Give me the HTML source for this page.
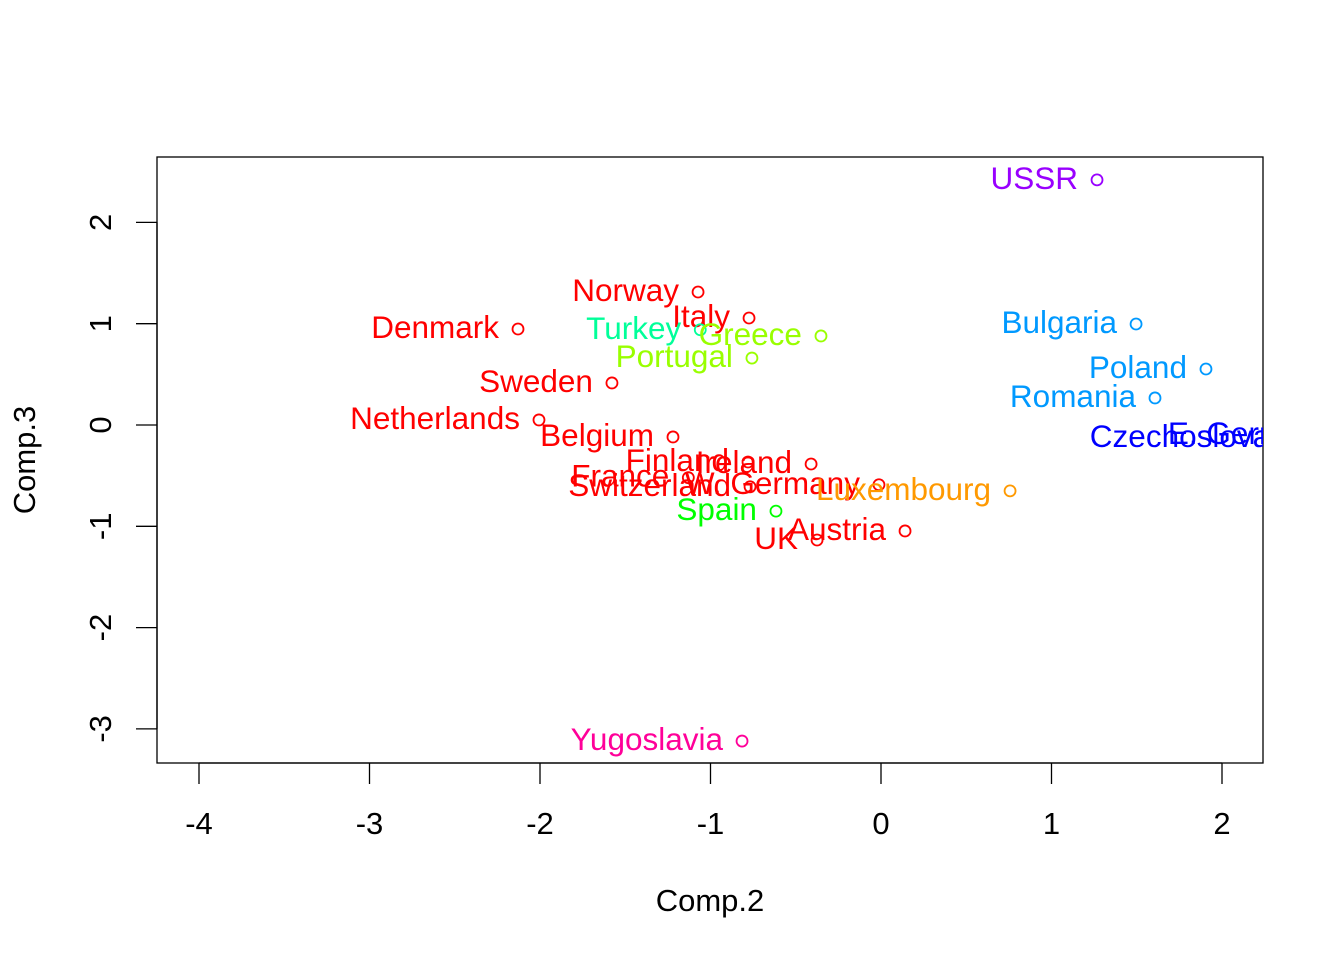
<!DOCTYPE html>
<html><head><meta charset="utf-8"><style>body{margin:0;background:#fff}svg{display:block;font-family:"Liberation Sans",Arial,sans-serif}</style></head>
<body>
<svg id="chart" width="1344" height="960">
<defs><clipPath id="clip"><rect x="157" y="157" width="1106" height="606"/></clipPath></defs>
<rect x="157" y="157" width="1106" height="606" fill="none" stroke="#000" stroke-width="1.3"/>
<g id="xaxis"></g>
<g id="yaxis"></g>
<g id="pts" clip-path="url(#clip)"></g>
<text x="710" y="911" font-size="31" text-anchor="middle">Comp.2</text>
<text transform="translate(35,460) rotate(-90)" font-size="31" text-anchor="middle">Comp.3</text>
</svg>
<script>
const countries=["USSR","Norway","Italy","Denmark","Turkey","Greece","Portugal","Sweden","Netherlands","Belgium","Finland","Ireland","France","Switzerland","W. Germany","Luxembourg","Spain","Austria","UK","Yugoslavia","Bulgaria","Poland","Romania","Czechoslovakia","E. Germany"];
const comp2=[1.267,-1.073,-0.774,-2.129,-1.06,-0.352,-0.757,-1.578,-2.006,-1.22,-0.78,-0.41,-1.13,-0.768,-0.012,0.757,-0.616,0.141,-0.375,-0.815,1.496,1.906,1.607,2.63,2.78];
const comp3=[2.42,1.313,1.056,0.948,0.94,0.879,0.661,0.415,0.05,-0.118,-0.365,-0.385,-0.52,-0.61,-0.59,-0.65,-0.85,-1.046,-1.135,-3.12,0.997,0.553,0.267,-0.13,-0.1];
const colors=["#9900FF","#FF0000","#FF0000","#FF0000","#00FF99","#99FF00","#99FF00","#FF0000","#FF0000","#FF0000","#FF0000","#FF0000","#FF0000","#FF0000","#FF0000","#FF9900","#00FF00","#FF0000","#FF0000","#FF0099","#0099FF","#0099FF","#0099FF","#0000FF","#0000FF"];
const xTicks=[-4,-3,-2,-1,0,1,2];
const yTicks=[-3,-2,-1,0,1,2];
const NS="http://www.w3.org/2000/svg";
const X=v=>881+v*170.5, Y=v=>425-v*101.3;
function mk(tag,attrs,parent,txt){const e=document.createElementNS(NS,tag);for(const k in attrs)e.setAttribute(k,attrs[k]);if(txt!==undefined)e.textContent=txt;parent.appendChild(e);return e;}
const xa=document.getElementById('xaxis');
mk('line',{x1:X(-4),x2:X(2),y1:763,y2:763,stroke:'#000','stroke-width':1.3},xa);
xTicks.forEach(t=>{
 const l=mk('line',{x1:X(t),x2:X(t),y1:763,y2:784,stroke:'#000','stroke-width':1.3},xa);
 
 
 const s=mk('text',{x:X(t),y:834,'font-size':31,'text-anchor':'middle'},xa,String(t));
 
 
});
const ya=document.getElementById('yaxis');
mk('line',{x1:157,x2:157,y1:Y(-3),y2:Y(2),stroke:'#000','stroke-width':1.3},ya);
yTicks.forEach(t=>{
 const l=mk('line',{x1:136,x2:157,y1:Y(t),y2:Y(t),stroke:'#000','stroke-width':1.3},ya);
 
 
 const s=mk('text',{transform:`translate(111,${Y(t)}) rotate(-90)`,'font-size':31,'text-anchor':'middle'},ya,String(t));
 
 
});
const pg=document.getElementById('pts');
countries.forEach((c,i)=>{
 const x=X(comp2[i]),y=Y(comp3[i]);
 const ci=mk('circle',{cx:x,cy:y,r:5.5,fill:'none',stroke:colors[i],'stroke-width':1.8},pg);
 
 
 const t=mk('text',{x:x-19,y:y+9,'font-size':31.5,'text-anchor':'end',fill:colors[i]},pg,c);
 
 
});
</script>
</body></html>
